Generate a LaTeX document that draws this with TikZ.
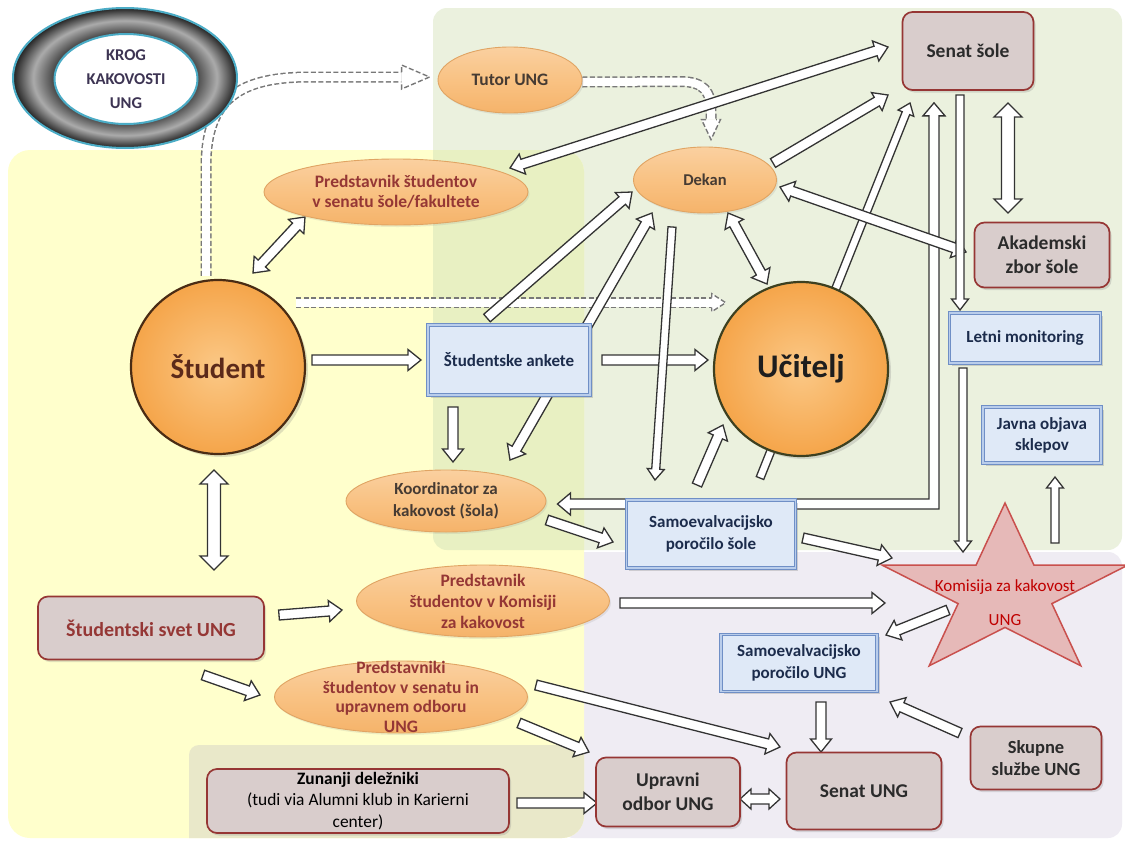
\documentclass[tikz,border=0pt]{standalone}
\usepackage{fontspec}
\setmainfont{Carlito}
\usetikzlibrary{calc,shapes.geometric,shadows}
\definecolor{bggreen}{HTML}{EBF1DE}
\definecolor{bgyellow}{HTML}{FFFFCC}
\definecolor{bgover}{HTML}{E8F0C2}
\definecolor{bglav}{HTML}{EFECF3}
\definecolor{bgbottom}{HTML}{E9E8C9}
\definecolor{arrline}{HTML}{333333}
\definecolor{dashgray}{HTML}{787878}
\definecolor{ovaltop}{HTML}{FAD0A0}
\definecolor{ovalmid}{HTML}{F9C283}
\definecolor{ovalbot}{HTML}{F5B36A}
\definecolor{ovalline}{HTML}{E0A463}
\definecolor{ovaltxt}{HTML}{463B33}
\definecolor{predtxt}{HTML}{953735}
\definecolor{boxfill}{HTML}{D9CDCC}
\definecolor{boxline}{HTML}{963634}
\definecolor{boxtxt}{HTML}{2B2B2B}
\definecolor{bluedark}{HTML}{6F8FC6}
\definecolor{bluelight}{HTML}{B9CDEB}
\definecolor{bluefill}{HTML}{DFE9F7}
\definecolor{navy}{HTML}{1C2C4C}
\definecolor{circin}{HTML}{FBC886}
\definecolor{circout}{HTML}{F5A54A}
\definecolor{studline}{HTML}{4A2C14}
\definecolor{ucline}{HTML}{3D4020}
\definecolor{studtxt}{HTML}{5C2A1A}
\definecolor{uctxt}{HTML}{1E1E1E}
\definecolor{starfill}{HTML}{E6B9B8}
\definecolor{starline}{HTML}{C9504D}
\definecolor{komred}{HTML}{C00000}
\definecolor{krogteal}{HTML}{4BACC6}
\definecolor{krogtxt}{HTML}{3D3453}
\definecolor{ringdark}{HTML}{444444}
\definecolor{ringlight}{HTML}{ABABAB}
\definecolor{ringedge}{HTML}{222222}
\pgfdeclareradialshading{ring}{\pgfpointorigin}{color(0bp)=(ringdark); color(15.8bp)=(ringdark); color(20.5bp)=(ringlight); color(25bp)=(ringedge); color(50bp)=(ringedge)}
\pgfdeclarelayer{bg}
\pgfdeclarelayer{arr}
\pgfsetlayers{bg,arr,main}
\tikzset{
 blockarr/.style={fill=white, draw=arrline, line width=1.3pt, line join=miter},
 dashout/.style={draw=dashgray, line width=11pt, dash pattern=on 5pt off 2.5pt},
 dashin/.style={draw=white, line width=8pt},
 dashhead/.style={fill=white, draw=dashgray, line width=1.4pt, dash pattern=on 5pt off 2.5pt},
 oval/.style={ellipse, inner xsep=0pt, inner ysep=-30pt, draw=ovalline, line width=0.9pt, top color=ovaltop, bottom color=ovalbot, middle color=ovalmid, align=center, text=ovaltxt, font=\fontsize{17.5}{20.5}\selectfont\bfseries, drop shadow={opacity=0.15, shadow xshift=1.5pt, shadow yshift=-2pt}},
 predoval/.style={oval, text=predtxt},
 rbox/.style={rectangle, rounded corners=10pt, draw=boxline, line width=1.7pt, fill=boxfill, align=center, inner sep=1pt, text=boxtxt, font=\fontsize{19.5}{24}\selectfont\bfseries, drop shadow={opacity=0.25, shadow xshift=2pt, shadow yshift=-2.5pt}},
 bbox/.style={rectangle, draw=bluedark, line width=0.8pt, double=bluelight, double distance=1.8pt, fill=bluefill, align=center, inner sep=1pt, text=navy, font=\fontsize{17}{22}\selectfont\bfseries, drop shadow={opacity=0.3, shadow xshift=2.5pt, shadow yshift=-2.5pt}},
 bigc/.style={circle, minimum size=174pt, inner sep=0pt, draw=#1, line width=2.2pt, inner color=circin, outer color=circout, drop shadow={opacity=0.25, shadow xshift=3pt, shadow yshift=-3pt}},
 krogin/.style={ellipse, inner xsep=0pt, inner ysep=-30pt, minimum width=143pt, minimum height=90pt, fill=white, draw=krogteal, line width=2pt, align=center, text=krogtxt, font=\fontsize{16.5}{24}\selectfont\bfseries},
 startext/.style={align=center, text=komred, font=\fontsize{17}{20}\selectfont}
}
% single and double block arrows: shaft half, head half, head length, start, end
\newcommand\ArrS[5]{%
  \coordinate (As) at #4; \coordinate (Ae) at #5;
  \coordinate (Ah) at ($(Ae)!#3!(As)$);
  \filldraw[blockarr] ($(As)!#1!90:(Ae)$) -- ($(Ah)!#1!90:(Ae)$) -- ($(Ah)!#2!90:(Ae)$) -- (Ae) -- ($(Ah)!#2!-90:(Ae)$) -- ($(Ah)!#1!-90:(Ae)$) -- ($(As)!#1!-90:(Ae)$) -- cycle;}
\newcommand\ArrD[5]{%
  \coordinate (As) at #4; \coordinate (Ae) at #5;
  \coordinate (Ah) at ($(Ae)!#3!(As)$);
  \coordinate (Ag) at ($(As)!#3!(Ae)$);
  \filldraw[blockarr] (As) -- ($(Ag)!#2!90:(Ae)$) -- ($(Ag)!#1!90:(Ae)$) -- ($(Ah)!#1!90:(Ae)$) -- ($(Ah)!#2!90:(Ae)$) -- (Ae) -- ($(Ah)!#2!-90:(Ae)$) -- ($(Ah)!#1!-90:(Ae)$) -- ($(Ag)!#1!-90:(Ae)$) -- ($(Ag)!#2!-90:(Ae)$) -- cycle;}
\newcommand\ArrSn[2]{\ArrS{5pt}{10.5pt}{13pt}{#1}{#2}}
\newcommand\ArrSt[2]{\ArrS{4pt}{8.5pt}{11pt}{#1}{#2}}
\newcommand\ArrDn[2]{\ArrD{5pt}{10.5pt}{13pt}{#1}{#2}}
\newcommand\ArrDw[2]{\ArrD{6.5pt}{14pt}{14pt}{#1}{#2}}
\begin{document}
\begin{tikzpicture}[x=1pt,y=-1pt]
\useasboundingbox (0,0) rectangle (1125,841);
\begin{pgfonlayer}{bg}
\fill[white] (0,0) rectangle (1125,841);
\fill[bggreen, rounded corners=14pt] (433,8) rectangle (1122,550);
\fill[bglav, rounded corners=14pt] (560,552) rectangle (1122,838);
\fill[bgyellow, rounded corners=22pt] (8,150) rectangle (584,838);
\begin{scope}
\clip[rounded corners=14pt] (433,8) rectangle (1122,550);
\fill[bgover, rounded corners=22pt] (8,150) rectangle (584,838);
\end{scope}
\begin{scope}
\clip[rounded corners=22pt] (8,150) rectangle (584,838);
\fill[bgbottom, rounded corners=10pt] (189,745) rectangle (610,860);
\end{scope}
\end{pgfonlayer}

% KROG
\shade[shading=ring, draw=krogteal, line width=2pt] (125,78) ellipse [x radius=112pt, y radius=70pt];
\node[krogin] (krog) at (126,79) {KROG\\KAKOVOSTI\\UNG};

% nodes
\node[rbox, minimum width=131pt, minimum height=78pt] (senats) at (968,51) {Senat šole};
\node[rbox, minimum width=135pt, minimum height=65pt] (akad) at (1042,255) {Akademski\\zbor šole};
\node[oval, minimum width=144pt, minimum height=66pt] (tutor) at (510,80) {Tutor UNG};
\node[predoval, minimum width=264pt, minimum height=66pt] (predsen) at (396,192) {Predstavnik študentov\\v senatu šole/fakultete};
\node[oval, minimum width=143pt, minimum height=66pt, font=\fontsize{16.5}{20}\selectfont\bfseries] (dekan) at (705,180) {Dekan};
\node[bigc=studline, text=studtxt, font=\fontsize{29}{32}\selectfont\bfseries] (stud) at (218,367) {Študent};
\node[bigc=ucline, text=uctxt, font=\fontsize{33}{36}\selectfont\bfseries] (uc) at (801,369) {Učitelj};
\node[bbox, minimum width=162pt, minimum height=70pt] (ank) at (509,360) {Študentske ankete};
\node[bbox, minimum width=151pt, minimum height=50pt] (letni) at (1025,338) {Letni monitoring};
\node[bbox, minimum width=118pt, minimum height=56pt, font=\fontsize{17}{21}\selectfont\bfseries] (javna) at (1042,435) {Javna objava\\sklepov};
\node[oval, minimum width=200pt, minimum height=62pt, font=\fontsize{17}{21.5}\selectfont\bfseries] (koord) at (446,501) {Koordinator za\\kakovost (šola)};
\node[bbox, minimum width=169pt, minimum height=68pt] (samos) at (711,534) {Samoevalvacijsko\\poročilo šole};
\coordinate (starc) at (1005,593);
\begin{scope}[shift={(starc)}]
\draw[fill=starfill, draw=starline, line width=1.5pt] (90:129pt and 90pt) -- (126:49.3pt and 34.4pt) -- (162:129pt and 90pt) -- (198:49.3pt and 34.4pt) -- (234:129pt and 90pt) -- (270:49.3pt and 34.4pt) -- (306:129pt and 90pt) -- (342:49.3pt and 34.4pt) -- (18:129pt and 90pt) -- (54:49.3pt and 34.4pt) -- cycle;
\end{scope}
\node[startext] (kom) at ($(starc)+(0,10)$) {Komisija za kakovost\\[14pt]UNG};
\node[rbox, minimum width=226pt, minimum height=63pt, text=predtxt, font=\fontsize{20}{24}\selectfont\bfseries] (svet) at (151,628) {Študentski svet UNG};
\node[predoval, minimum width=253pt, minimum height=72pt, font=\fontsize{17.5}{21}\selectfont\bfseries] (predkom) at (483,601) {Predstavnik\\študentov v Komisiji\\za kakovost};
\node[predoval, minimum width=253pt, minimum height=72pt, font=\fontsize{17.5}{19.5}\selectfont\bfseries] (predst) at (401,697) {Predstavniki\\študentov v senatu in\\upravnem odboru\\UNG};
\node[bbox, minimum width=156pt, minimum height=57pt] (samoung) at (799,663) {Samoevalvacijsko\\poročilo UNG};
\node[rbox, minimum width=131pt, minimum height=63pt, font=\fontsize{18.5}{22}\selectfont\bfseries] (skupne) at (1036,758) {Skupne\\službe UNG};
\node[rbox, minimum width=302pt, minimum height=64pt, text=black, font=\fontsize{17.4}{21.5}\selectfont] (zun) at (358,801) {\textbf{Zunanji deležniki}\\(tudi via Alumni klub in Karierni\\center)};
\node[rbox, minimum width=144pt, minimum height=69pt] (uprav) at (668,792) {Upravni\\odbor UNG};
\node[rbox, minimum width=155pt, minimum height=77pt] (senatung) at (864,791) {Senat UNG};

\begin{pgfonlayer}{arr}
% dashed arrows
\coordinate (S1) at ($(stud.north)+(-12,-3)$);
\coordinate (T1) at ($(tutor.west)+(-8,-3)$);
\draw[dashout] (S1) -- ($(S1)+(0,-110)$) .. controls ($(S1)+(0,-177)$) and ($(T1)+(-190,0)$) .. ($(T1)+(-120,0)$) -- ($(T1)+(-28,0)$);
\draw[dashin] (S1) -- ($(S1)+(0,-110)$) .. controls ($(S1)+(0,-177)$) and ($(T1)+(-190,0)$) .. ($(T1)+(-120,0)$) -- ($(T1)+(-28,0)$);
\filldraw[dashhead] ($(T1)+(-28,-5)$) -- ($(T1)+(-28,-12)$) -- (T1) -- ($(T1)+(-28,12)$) -- ($(T1)+(-28,5)$);
\coordinate (S2) at ($(tutor.east)+(0,2)$);
\coordinate (T2) at ($(dekan.north)+(6,-7)$);
\draw[dashout] (S2) -- ($(T2)+(-31,-58)$) .. controls ($(T2)+(-7,-58)$) and ($(T2)+(0,-48)$) .. ($(T2)+(0,-28)$) -- ($(T2)+(0,-20)$);
\draw[dashin] (S2) -- ($(T2)+(-31,-58)$) .. controls ($(T2)+(-7,-58)$) and ($(T2)+(0,-48)$) .. ($(T2)+(0,-28)$) -- ($(T2)+(0,-20)$);
\filldraw[dashhead] ($(T2)+(-5,-20)$) -- ($(T2)+(-9.5,-20)$) -- (T2) -- ($(T2)+(9.5,-20)$) -- ($(T2)+(5,-20)$);
\coordinate (S3) at ($(stud.north east)+(16,-2)$);
\coordinate (T3) at ($(S3 -| uc.north west)+(-13,0)$);
\draw[dashout] (S3) -- ($(T3)+(-14,0)$);
\draw[dashin] (S3) -- ($(T3)+(-14,0)$);
\filldraw[dashhead] ($(T3)+(-14,-5)$) -- ($(T3)+(-14,-9)$) -- (T3) -- ($(T3)+(-14,9)$) -- ($(T3)+(-14,5)$);

% elbow arrow Koordinator <-> Senat sole
\coordinate (EL) at ($(koord.east)+(11,3)$);
\coordinate (ET) at ($(senats.south)+(-34,12)$);
\coordinate (EC) at (ET |- EL);
\filldraw[blockarr] (EL) -- ++(13,-11) -- ++(0,6) -- ($(EC)+(-5,-5)$) -- ($(ET)+(-5,13)$) -- ++(-6,0) -- (ET) -- ($(ET)+(11,13)$) -- ++(-6,0) -- ($(EC)+(5,5)$) -- ($(EL)+(13,5)$) -- ++(0,6) -- cycle;

% block arrows
\ArrSn{($(stud)+(94,-7)$)}{($(ank)+(-88,0)$)}
\ArrDn{($(stud)+(35,-94)$)}{($(predsen)+(-91,25)$)}
\ArrDn{($(predsen)+(114,-24)$)}{($(senats)+(-80,-4)$)}
\ArrSn{($(ank)+(-22,-42)$)}{($(dekan)+(-73,12)$)}
\ArrDn{($(dekan)+(-53,33)$)}{($(koord)+(64,-41)$)}
\ArrSn{($(ank)+(93,0)$)}{($(uc)+(-93,-9)$)}
\ArrSt{($(dekan)+(-33,47)$)}{($(samos)+(-56,-54)$)}
\ArrSn{($(ank)+(-56,47)$)}{($(koord)+(7,-39)$)}
\ArrSn{($(samos)+(-14,-49)$)}{($(uc)+(-78,56)$)}
\ArrSt{($(samos)+(49,-56)$)}{($(senats)+(-58,52)$)}
\ArrSn{($(dekan)+(68,-17)$)}{($(senats)+(-80,44)$)}
\ArrDn{($(dekan)+(23,33)$)}{($(uc)+(-34,-85)$)}
\ArrDn{($(dekan)+(75,7)$)}{($(akad)+(-76,-3)$)}
\ArrDw{($(senats)+(40,52)$)}{($(akad)+(-34,-42)$)}
\ArrSt{($(senats)+(-8,44)$)}{($(letni)+(-65,-28)$)}
\ArrSt{($(letni)+(-62,30)$)}{($(kom)+(-42,-51)$)}
\ArrSt{($(kom)+(50,-60)$)}{($(javna)+(13,42)$)}
\ArrSn{($(koord)+(101,19)$)}{($(samos)+(-98,8)$)}
\ArrSn{($(samos)+(92,4)$)}{($(kom)+(-113,-45)$)}
\ArrSn{($(predkom)+(137,2)$)}{($(kom)+(-120,0)$)}
\ArrSn{($(kom)+(-57,7)$)}{($(samoung)+(87,-28)$)}
\ArrSn{($(svet)+(128,-13)$)}{($(predkom)+(-141,9)$)}
\ArrSn{($(svet)+(52,47)$)}{($(predst)+(-141,-2)$)}
\ArrDw{($(stud)+(-4,103)$)}{($(svet)+(63,-58)$)}
\ArrSn{($(predst)+(135,-12)$)}{($(senatung)+(-84,-44)$)}
\ArrSn{($(predst)+(118,26)$)}{($(uprav)+(-79,-40)$)}
\ArrSn{($(zun)+(159,2)$)}{($(uprav)+(-71,11)$)}
\ArrD{5pt}{10pt}{11pt}{($(uprav)+(72,7)$)}{($(senatung)+(-84,8)$)}
\ArrSn{($(samoung)+(22,39)$)}{($(senatung)+(-43,-39)$)}
\ArrSn{($(skupne)+(-76,-25)$)}{($(samoung)+(91,39)$)}
\end{pgfonlayer}
\end{tikzpicture}
\end{document}
